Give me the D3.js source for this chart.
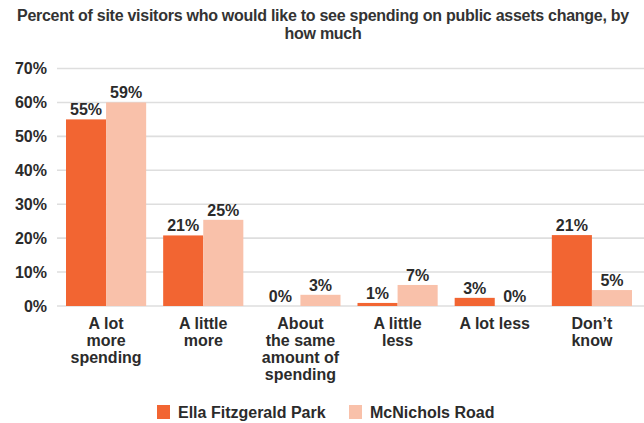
<!DOCTYPE html>
<html>
<head>
<meta charset="utf-8">
<script src="https://cdn.jsdelivr.net/npm/d3@7"></script>
<style>
  html, body { margin: 0; padding: 0; background: #fff; }
  svg { display: block; }
  text { font-family: "Liberation Sans", Arial, sans-serif; fill: #2b2b2b; }
</style>
</head>
<body>
<script>
const titleLines = ["Percent of site visitors who would like to see spending on public assets change, by", "how much"];
const categories = ["A lot more spending", "A little more", "About the same amount of spending", "A little less", "A lot less", "Don\u2019t know"];
const categoryLines = [["A lot", "more", "spending"], ["A little", "more"], ["About", "the same", "amount of", "spending"], ["A little", "less"], ["A lot less"], ["Don\u2019t", "know"]];
const seriesNames = ["Ella Fitzgerald Park", "McNichols Road"];
const ellaValues = [55.0, 20.8, 0, 0.9, 2.4, 20.9];
const mcnicholsValues = [60.0, 25.4, 3.3, 6.2, 0, 4.7];
const ellaLabels = ["55%", "21%", "0%", "1%", "3%", "21%"];
const mcnicholsLabels = ["59%", "25%", "3%", "7%", "0%", "5%"];
const yTicks = [0, 10, 20, 30, 40, 50, 60, 70];
const colors = ["#f26532", "#f9c1aa"];

const W = 644, H = 423;
const svg = d3.select("body").append("svg").attr("width", W).attr("height", H);

// Title
const title = svg.append("g");
const t1 = title.append("text").attr("x", 323).attr("y", 21).attr("text-anchor", "middle")
  .style("font-weight", "bold").style("font-size", "16px").style("fill", "#333")
  .text(titleLines[0]);
const natural = t1.node().getComputedTextLength();
const target = 612;
if (natural > target) {
  t1.style("letter-spacing", ((target - natural) / titleLines[0].length) + "px");
}
title.append("text").attr("x", 323).attr("y", 39).attr("text-anchor", "middle")
  .style("font-weight", "bold").style("font-size", "16px").style("fill", "#333")
  .style("letter-spacing", t1.style("letter-spacing"))
  .text(titleLines[1]);

const y = d3.scaleLinear().domain([0, 70]).range([306, 68.5]);
const x0 = d3.scaleBand().domain(categories).range([66, 632]).paddingInner(0.175).paddingOuter(0);
const x1 = d3.scaleBand().domain(seriesNames).range([0, x0.bandwidth()]).padding(0);

// Gridlines
svg.append("g").selectAll("line").data(yTicks).join("line")
  .attr("x1", 57).attr("x2", 644)
  .attr("y1", d => y(d)).attr("y2", d => y(d))
  .attr("stroke", "#dedede").attr("stroke-width", 1.6);

// Y axis labels
const yAxis = d3.axisLeft(y).tickValues(yTicks).tickFormat(d => d + "%").tickSize(0).tickPadding(0);
const yg = svg.append("g").attr("transform", "translate(47,0)").call(yAxis);
yg.select(".domain").remove();
yg.selectAll("text").style("font-size", "16px").style("font-weight", "bold")
  .style("font-family", "'Liberation Sans', Arial, sans-serif").attr("fill", "#2b2b2b");

// Bars
const rows = categories.map((c, i) => ({
  cat: c,
  vals: [
    { s: seriesNames[0], v: ellaValues[i], label: ellaLabels[i] },
    { s: seriesNames[1], v: mcnicholsValues[i], label: mcnicholsLabels[i] }
  ]
}));
const color = d3.scaleOrdinal().domain(seriesNames).range(colors);

const groups = svg.append("g").selectAll("g").data(rows).join("g")
  .attr("transform", d => `translate(${x0(d.cat)},0)`);
groups.selectAll("rect").data(d => d.vals).join("rect")
  .attr("x", d => x1(d.s)).attr("width", x1.bandwidth())
  .attr("y", d => y(d.v)).attr("height", d => y(0) - y(d.v))
  .attr("fill", d => color(d.s));
groups.selectAll("text.val").data(d => d.vals).join("text").attr("class", "val")
  .attr("x", d => x1(d.s) + x1.bandwidth() / 2)
  .attr("y", d => y(d.v) - 4)
  .attr("text-anchor", "middle")
  .style("font-size", "16px").style("font-weight", "bold")
  .text(d => d.label);

// Category labels
const catG = svg.append("g").selectAll("text").data(categories).join("text")
  .attr("text-anchor", "middle")
  .attr("x", d => x0(d) + x0.bandwidth() / 2)
  .attr("y", 329)
  .style("font-size", "16px").style("font-weight", "bold");
catG.each(function(d, i) {
  const t = d3.select(this);
  categoryLines[i].forEach((line, j) => {
    t.append("tspan").attr("x", x0(d) + x0.bandwidth() / 2).attr("y", 329 + j * 17).text(line);
  });
});

// Legend
const legendX = [157, 349];
const lg = svg.append("g").selectAll("g").data(seriesNames).join("g")
  .attr("transform", (d, i) => `translate(${legendX[i]},405)`);
lg.append("rect").attr("width", 13).attr("height", 14).attr("fill", d => color(d));
lg.append("text").attr("x", 21).attr("y", 13)
  .style("font-size", "16px").style("font-weight", "bold")
  .text(d => d);
</script>
</body>
</html>
